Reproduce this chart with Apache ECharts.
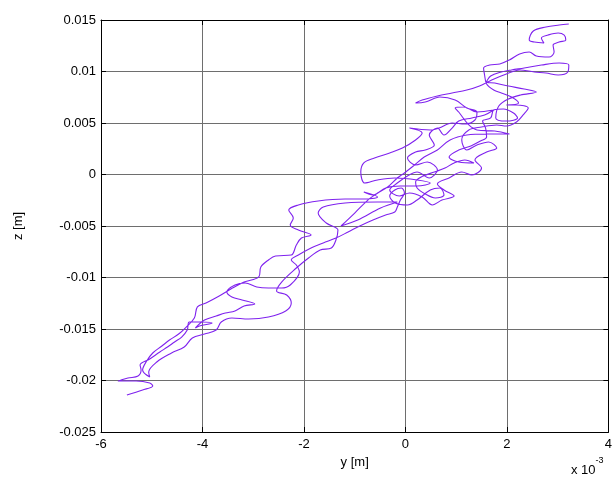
<!DOCTYPE html>
<html>
<head>
<meta charset="utf-8">
<script src="https://cdn.jsdelivr.net/npm/echarts@6/dist/echarts.min.js"></script>
<style>
  html, body { margin: 0; padding: 0; background: #fff; }
  #chart { width: 615px; height: 477px; }
</style>
</head>
<body>
<div id="chart"></div>
<script>
// Trajectory in the y-z plane: y in units of 1e-3 m, z in metres
const yPos = [
  -5.49,-5.18,-4.98,-5.04,-5.31,-5.66,-5.47,-5.27,-5.21,-5.23,
  -5.04,-4.84,-4.69,-4.55,-4.41,-4.30,-4.26,-4.00,-3.81,-4.06,
  -4.14,-3.96,-3.73,-3.55,-3.36,-3.18,-2.97,-3.22,-3.42,-3.52,
  -3.36,-3.16,-2.93,-2.70,-2.44,-2.27,-2.09,-2.15,-2.25,-2.11,
  -1.86,-1.62,-1.37,-1.13,-0.90,-0.64,-0.39,-0.21,-0.16,-0.10,
  -0.02,-0.08,-0.21,-0.31,-0.20,0.04,0.23,0.49,0.68,0.76,
  0.59,0.39,0.23,0.20,0.35,0.57,0.78,0.96,1.17,1.35,
  1.05,0.86,1.05,1.29,1.48,1.60,1.58,1.52,1.68,1.74,
  1.93,2.13,2.21,1.99,1.78,1.84,2.03,2.27,2.58,2.34,
  2.03,1.76,1.60,1.68,1.89,2.09,2.34,2.68,3.03,3.22,
  3.20,3.01,2.77,2.54,2.25,1.99,1.70,1.46,1.21,0.92,
  0.63,0.33,0.20,0.39,0.68,0.98,1.21,1.41,1.37,1.17,
  0.92,0.66,0.49,0.08,0.33,0.20,-0.06,-0.31,-0.61,-0.82,
  -0.88,-0.80,-0.55,-0.21,0.23,0.49,0.23,-0.10,-0.39,-0.64,
  -0.82,-0.55,-0.84,-1.19,-1.72,-2.11,-2.30,-2.21,-2.27,-2.11,
  -1.86,-2.05,-2.15,-2.25,-2.56,-2.70,-2.85,-2.89,-3.18,-3.44,
  -3.67,-3.93,-4.10,-4.16,-4.32,-4.47,-4.65,-4.80,-4.98,-5.10,
  -5.18,-5.04,-5.06,-4.90,-4.61,-4.36,-4.20,-3.96,-3.73,-3.63,
  -3.42,-3.09,-2.70,-2.36,-2.25,-2.34,-2.54,-2.44,-2.15,-1.91,
  -1.68,-1.46,-1.37,-1.33,-1.56,-1.72,-1.62,-1.19,-0.55,-0.16,
  -0.49,-0.94,-1.27,-1.00,-0.74,-0.55,-0.35,-0.16,-0.02,0.18,
  0.37,0.63,0.88,1.21,1.60,2.05,1.76,1.41,1.25,1.05,
  0.98,1.15,1.41,1.74,
  // second tangle through the upper middle of the band
  1.56,1.31,1.05,0.92,0.76,0.63,0.47,0.57,0.39,0.20,
  0.04,0.20,0.43,0.63,0.47,0.23,0.04,-0.16,-0.31,-0.12,
  0.08,0.33,0.53,0.72,0.96,0.76,0.63,0.86,1.11,1.31,
  1.50,1.37,1.60,1.80,1.64,1.41,1.21,1.11,1.25,1.50,
  1.80,1.99,2.19,2.32,2.42,2.19,
  1.99,2.23,2.09,1.89,1.74,1.60,
  1.56,1.54,1.66,1.86,2.05,2.25,2.44,2.58,2.83,2.93,
  2.91,3.03,3.16,3.13,3.01,2.81,2.68,2.73,2.54,2.44,
  2.52,2.77,3.03,3.22
];
const zPos = [
  -0.02141,-0.02092,-0.02053,-0.02024,-0.02005,-0.02005,-0.01976,-0.01956,-0.01898,-0.01850,
  -0.01791,-0.01723,-0.01675,-0.01626,-0.01578,-0.01510,-0.01432,-0.01432,-0.01442,-0.01471,
  -0.01490,-0.01413,-0.01374,-0.01345,-0.01325,-0.01277,-0.01257,-0.01218,-0.01189,-0.01141,
  -0.01073,-0.01053,-0.01092,-0.01102,-0.01102,-0.01073,-0.00947,-0.00879,-0.00830,-0.00782,
  -0.00714,-0.00665,-0.00617,-0.00558,-0.00500,-0.00442,-0.00393,-0.00364,-0.00316,-0.00248,
  -0.00180,-0.00131,-0.00150,-0.00209,-0.00277,-0.00296,-0.00248,-0.00150,-0.00131,-0.00199,
  -0.00228,-0.00189,-0.00131,-0.00073,-0.00015,0.00024,0.00063,0.00112,0.00141,0.00112,
  0.00121,0.00170,0.00238,0.00277,0.00325,0.00364,0.00451,0.00519,0.00549,0.00626,
  0.00636,0.00597,0.00549,0.00519,0.00549,0.00665,0.00733,0.00772,0.00801,0.00830,
  0.00859,0.00888,0.00898,0.00956,0.00995,0.01015,0.01034,0.01063,0.01083,0.01063,
  0.00995,0.00966,0.00985,0.00995,0.01015,0.00976,0.00918,0.00859,0.00820,0.00791,
  0.00762,0.00723,0.00694,0.00704,0.00752,0.00723,0.00646,0.00607,0.00529,0.00490,
  0.00500,0.00451,0.00432,0.00451,0.00403,0.00335,0.00257,0.00209,0.00160,0.00112,
  0.00024,-0.00083,-0.00053,-0.00034,-0.00053,-0.00083,-0.00112,-0.00112,-0.00131,-0.00199,
  -0.00170,-0.00218,-0.00238,-0.00238,-0.00257,-0.00296,-0.00345,-0.00422,-0.00490,-0.00539,
  -0.00587,-0.00617,-0.00684,-0.00782,-0.00791,-0.00830,-0.00898,-0.00995,-0.01044,-0.01112,
  -0.01180,-0.01248,-0.01286,-0.01393,-0.01481,-0.01549,-0.01607,-0.01665,-0.01733,-0.01811,
  -0.01898,-0.01966,-0.01918,-0.01820,-0.01733,-0.01675,-0.01587,-0.01549,-0.01510,-0.01432,
  -0.01393,-0.01403,-0.01384,-0.01325,-0.01248,-0.01170,-0.01131,-0.01044,-0.00908,-0.00811,
  -0.00733,-0.00714,-0.00636,-0.00539,-0.00471,-0.00374,-0.00316,-0.00277,-0.00267,-0.00267,
  -0.00325,-0.00442,-0.00500,-0.00374,-0.00248,-0.00180,-0.00121,-0.00034,0.00015,0.00092,
  0.00170,0.00238,0.00335,0.00383,0.00393,0.00393,0.00422,0.00432,0.00481,0.00607,
  0.00646,0.00655,0.00607,0.00626,
  // second tangle through the upper middle of the band
  0.00578,0.00549,0.00519,0.00451,0.00383,0.00451,0.00383,0.00286,0.00238,0.00218,
  0.00160,0.00092,0.00121,0.00044,-0.00034,0.00024,-0.00015,-0.00083,-0.00150,-0.00209,
  -0.00180,-0.00218,-0.00296,-0.00248,-0.00209,-0.00150,-0.00092,-0.00034,0.00024,-0.00005,
  0.00063,0.00141,0.00218,0.00257,0.00316,0.00286,0.00238,0.00335,0.00432,0.00461,
  0.00481,0.00471,0.00510,0.00578,0.00646,0.00675,
  0.00675,0.00694,0.00752,0.00791,0.00820,0.00879,
  0.00966,0.01034,0.01063,0.01073,0.01112,0.01170,0.01189,0.01151,0.01141,0.01189,
  0.01257,0.01286,0.01306,0.01354,0.01374,0.01354,0.01325,0.01277,0.01286,0.01306,
  0.01393,0.01432,0.01451,0.01461
];
const xTicks = [-6, -4, -2, 0, 2, 4];
const zTicks = [-0.025, -0.02, -0.015, -0.01, -0.005, 0, 0.005, 0.01, 0.015];

const path = yPos.map((y, i) => [y, zPos[i]]);

const FONT = '"Liberation Sans", Arial, sans-serif';
const gridLine = { show: true, lineStyle: { color: '#6e6e6e', width: 1 } };
const axLine = { show: true, onZero: false, lineStyle: { color: '#000', width: 1 } };
const tick = { show: true, inside: true, length: 5, lineStyle: { color: '#000' } };

const chart = echarts.init(document.getElementById('chart'), null, { renderer: 'canvas' });
chart.setOption({
  animation: false,
  backgroundColor: '#fff',
  grid: { left: 101, right: 2, top: 20, bottom: 45, containLabel: false },
  xAxis: [
    {
      type: 'value', min: xTicks[0], max: xTicks[xTicks.length - 1], interval: 2,
      axisLine: axLine, axisTick: tick, splitLine: gridLine,
      axisLabel: { color: '#000', fontSize: 13, fontFamily: FONT, margin: 6 },
      name: 'y [m]', nameLocation: 'middle', nameGap: 22,
      nameTextStyle: { color: '#000', fontSize: 13, fontFamily: FONT }
    },
    {
      type: 'value', position: 'top', min: xTicks[0], max: xTicks[xTicks.length - 1], interval: 2,
      axisLine: axLine, axisTick: tick, splitLine: { show: false }, axisLabel: { show: false }
    }
  ],
  yAxis: [
    {
      type: 'value', min: zTicks[0], max: zTicks[zTicks.length - 1], interval: 0.005,
      axisLine: axLine, axisTick: tick, splitLine: gridLine,
      axisLabel: {
        color: '#000', fontSize: 13, fontFamily: FONT, margin: 5,
        formatter: v => String(Number(v.toFixed(3)))
      },
      name: 'z [m]', nameLocation: 'middle', nameGap: 76, nameRotate: 90,
      nameTextStyle: { color: '#000', fontSize: 13, fontFamily: FONT }
    },
    {
      type: 'value', position: 'right', min: zTicks[0], max: zTicks[zTicks.length - 1], interval: 0.005,
      axisLine: axLine, axisTick: tick, splitLine: { show: false }, axisLabel: { show: false }
    }
  ],
  graphic: [
    {
      type: 'text', left: 571, top: 456,
      style: {
        text: '{a|x 10}{b|-3}',
        rich: {
          a: { fontSize: 13, fontFamily: FONT, fill: '#000', padding: [8, 0, 0, 0] },
          b: { fontSize: 9, fontFamily: FONT, fill: '#000', verticalAlign: 'top' }
        }
      }
    }
  ],
  series: [
    {
      type: 'line',
      data: path,
      showSymbol: false,
      smooth: 0.35,
      clip: true,
      lineStyle: { color: '#7f22ee', width: 1.1 },
      emphasis: { disabled: true }
    }
  ]
});
</script>
</body>
</html>
